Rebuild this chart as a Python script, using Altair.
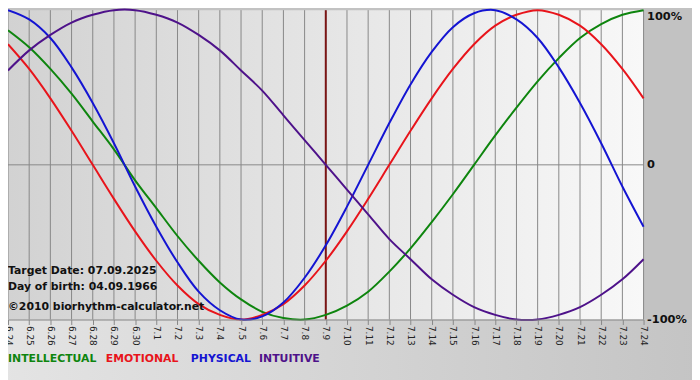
import altair as alt
import pandas as pd

days = ["6.24", "6.25", "6.26", "6.27", "6.28", "6.29", "6.30",
        "7.1", "7.2", "7.3", "7.4", "7.5", "7.6", "7.7", "7.8", "7.9",
        "7.10", "7.11", "7.12", "7.13", "7.14", "7.15", "7.16", "7.17",
        "7.18", "7.19", "7.20", "7.21", "7.22", "7.23", "7.24"]

intellectual = [0.87, 0.76, 0.62, 0.46, 0.28, 0.10, -0.10, -0.28, -0.46, -0.62,
                -0.76, -0.87, -0.95, -0.99, -1.00, -0.97, -0.91, -0.82, -0.69, -0.54,
                -0.37, -0.19, 0.00, 0.19, 0.37, 0.54, 0.69, 0.82, 0.91, 0.97, 1.00]
emotional = [0.78, 0.62, 0.43, 0.22, 0.00, -0.22, -0.43, -0.62, -0.78, -0.90,
             -0.97, -1.00, -0.97, -0.90, -0.78, -0.62, -0.43, -0.22, 0.00, 0.22,
             0.43, 0.62, 0.78, 0.90, 0.97, 1.00, 0.97, 0.90, 0.78, 0.62, 0.43]
physical = [1.00, 0.94, 0.82, 0.63, 0.40, 0.14, -0.14, -0.40, -0.63, -0.82,
            -0.94, -1.00, -0.98, -0.89, -0.73, -0.52, -0.27, 0.00, 0.27, 0.52,
            0.73, 0.89, 0.98, 1.00, 0.94, 0.82, 0.63, 0.40, 0.14, -0.14, -0.40]
intuitive = [0.61, 0.74, 0.84, 0.92, 0.97, 1.00, 1.00, 0.97, 0.92, 0.84,
             0.74, 0.61, 0.48, 0.32, 0.16, 0.00, -0.16, -0.32, -0.48, -0.61,
             -0.74, -0.84, -0.92, -0.97, -1.00, -1.00, -0.97, -0.92, -0.84, -0.74, -0.61]

series_names = ["INTELLECTUAL", "EMOTIONAL", "PHYSICAL", "INTUITIVE"]
series_colors = ["#0e850e", "#e8141b", "#1414d2", "#4e128a"]
target_day = "7.9"
info_lines = ["Target Date: 07.09.2025", "Day of birth: 04.09.1966",
              "\u00a92010 biorhythm-calculator.net"]
y_labels = ["100%", "0", "-100%"]

W, H = 643, 313

rows = []
for name, vals in zip(series_names, [intellectual, emotional, physical, intuitive]):
    for d, v in zip(days, vals):
        rows.append({"day": d, "value": v, "series": name})
df = pd.DataFrame(rows)
days_df = pd.DataFrame({"day": days})
one = pd.DataFrame({"a": [0]})

x_enc = alt.X("day:O", sort=days, scale=alt.Scale(type="point", padding=0),
              axis=alt.Axis(title=None, labelAngle=90, labelFontSize=9,
                            labelFont="DejaVu Sans", labelColor="#222222",
                            tickColor="#888888", domainColor="#888888",
                            tickSize=5, labelPadding=1, grid=False,
                            labelOverlap=False, zindex=1))
y_scale = alt.Scale(domain=[-1, 1], nice=False)
y_axis = alt.Axis(title=None, orient="right", values=[1, 0, -1],
                  labelExpr=f"datum.value == 1 ? '{y_labels[0]}' : datum.value == 0 ? '{y_labels[1]}' : '{y_labels[2]}'",
                  grid=False, ticks=False, domain=False, labelFontSize=11.5,
                  labelFont="DejaVu Sans", labelFontWeight="bold", labelColor="#111111",
                  labelPadding=3, zindex=1,
                  labelBaseline={"condition": {"test": "datum.value == 1", "value": "top"},
                                 "value": "middle"})

bg_bottom = alt.Chart(one).mark_rect(
    fill=alt.Gradient(gradient="linear",
                      stops=[alt.GradientStop(color="#e4e4e4", offset=0),
                             alt.GradientStop(color="#c4c4c4", offset=1)],
                      x1=0, x2=1, y1=0, y2=0)
).encode(x=alt.value(-10), x2=alt.value(W + 60), y=alt.value(H), y2=alt.value(H + 70))

bg_plot = alt.Chart(one).mark_rect(
    fill=alt.Gradient(gradient="linear",
                      stops=[alt.GradientStop(color="#d2d2d2", offset=0),
                             alt.GradientStop(color="#f8f8f8", offset=1)],
                      x1=0, x2=1, y1=0, y2=0)
).encode(x=alt.value(0), x2=alt.value(W), y=alt.value(0), y2=alt.value(H))

grid = alt.Chart(days_df).mark_rule(color="#888888", strokeWidth=1).encode(x=x_enc)

zero = alt.Chart(pd.DataFrame({"value": [0]})).mark_rule(color="#888888", strokeWidth=1).encode(
    y=alt.Y("value:Q", scale=y_scale, axis=y_axis))

target = alt.Chart(pd.DataFrame({"day": [target_day]})).mark_rule(
    color="#7a1414", strokeWidth=2).encode(x=x_enc)

curves = alt.Chart(df).mark_line(strokeWidth=2, interpolate="catmull-rom").encode(
    x=x_enc,
    y=alt.Y("value:Q", scale=y_scale, axis=y_axis),
    color=alt.Color("series:N", scale=alt.Scale(domain=series_names, range=series_colors),
                    legend=None),
)

def txt(s, x, y, color="#111111"):
    return alt.Chart(one).mark_text(align="left", baseline="middle", font="DejaVu Sans",
                                    fontWeight="bold", fontSize=11, color=color).encode(
        x=alt.value(x), y=alt.value(y), text=alt.value(s))

info = [txt(info_lines[0], 0, 264), txt(info_lines[1], 0, 280), txt(info_lines[2], 0, 300)]
legend_x = [0, 99, 185, 254]
legend = [txt(n, lx, 353, c) for n, lx, c in zip(series_names, legend_x, series_colors)]

chart = alt.layer(bg_bottom, bg_plot, grid, zero, target, curves, *info, *legend).properties(
    width=W, height=H,
    padding={"left": 0, "top": 0, "right": 49, "bottom": 59},
    autosize=alt.AutoSizeParams(type="none"),
    background="#c2c2c2",
).configure_view(strokeWidth=0)

chart.save("out.html", embed_options={"renderer": "svg", "actions": False})
